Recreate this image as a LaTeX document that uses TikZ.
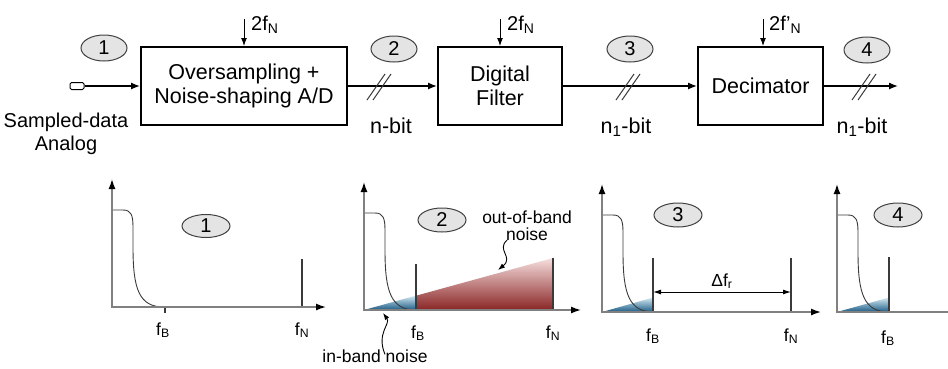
\documentclass[tikz,border=0pt]{standalone}
\usepackage{fontspec}
\setmainfont{Liberation Sans}
\usetikzlibrary{arrows.meta,shapes.geometric,positioning}
\definecolor{tagfill}{HTML}{E4E4E4}
\definecolor{tagline}{HTML}{404040}
\definecolor{axisc}{HTML}{808080}
\definecolor{curvec}{HTML}{3A3A3A}
\definecolor{bluedk}{HTML}{1C5A86}
\definecolor{bluelt}{HTML}{D2EAF2}
\definecolor{reddk}{HTML}{8A2525}
\definecolor{redlt}{HTML}{F6DEDE}
\tikzset{
  blk/.style={draw,line width=2pt,minimum height=78pt,align=center,font=\fontsize{21.5}{24}\selectfont},
  tag/.style={ellipse,draw=tagline,fill=tagfill,line width=1pt,minimum width=46pt,minimum height=26pt,inner sep=0pt,font=\fontsize{20}{22}\selectfont},
  sig/.style={line width=1.3pt,-{Latex[length=9pt,width=7pt]}},
  clk/.style={line width=1pt,-{Latex[length=8pt,width=6pt]}},
  ax/.style={axisc,line width=1.4pt,{Latex[length=10pt,width=7pt,color=black]}-{Latex[length=10pt,width=7pt,color=black]}},
  crv/.style={curvec,line width=0.9pt},
  fline/.style={curvec,line width=1.1pt},
  slash/.style={curvec,line width=1pt},
  wig/.style={line width=0.9pt,-{Latex[length=7pt,width=5pt]}},
  dim/.style={line width=1pt,{Latex[length=8pt,width=5pt]}-{Latex[length=8pt,width=5pt]}},
  txt/.style={font=\fontsize{21.5}{23}\selectfont,align=center,inner sep=0pt},
  lbl/.style={font=\fontsize{17.5}{17}\selectfont,align=center,inner sep=0pt},
  ck/.style={font=\fontsize{20}{22}\selectfont,inner sep=0pt,anchor=west},
}
\begin{document}
\begin{tikzpicture}[x=1pt,y=-1pt]
\useasboundingbox (0,0) rectangle (948,368);
% signal chain
\node[blk,minimum width=206pt] (ad) at (244,86) {Oversampling +\\Noise-shaping A/D};
\node[blk,minimum width=124pt] (filt) at (500,86) {Digital\\Filter};
\node[blk,minimum width=125pt] (deci) at (760.5,86) {Decimator};
\node[draw,fill=white,line width=1pt,rounded corners=1.5pt,minimum width=14pt,minimum height=7pt,inner sep=0pt] (src) at (77,86) {};
\node[txt,font=\fontsize{20}{23}\selectfont] (srclbl) at (66,134) {Sampled-data\\Analog};
\coordinate (out) at (898,86);
\draw[sig] (src) -- (ad);
\draw[sig] (ad) -- (filt);
\draw[sig] (filt) -- (deci);
\draw[sig] (deci) -- (out);
% clocks
\coordinate (ckad) at ([yshift=27pt]ad.north);
\coordinate (ckfilt) at ([yshift=27pt]filt.north);
\coordinate (ckdeci) at ([xshift=2.5pt,yshift=27pt]deci.north);
\draw[clk] (ckad) -- (ad.north);
\draw[clk] (ckfilt) -- (filt.north);
\draw[clk] (ckdeci) -- (ckdeci |- deci.north);
\node[ck] (fad) at ([xshift=7pt,yshift=-6pt]ckad) {2f\textsubscript{N}};
\node[ck] (ffilt) at ([xshift=7pt,yshift=-6pt]ckfilt) {2f\textsubscript{N}};
\node[ck] (fdeci) at ([xshift=6pt,yshift=-6pt]ckdeci) {2f'\textsubscript{N}};
% bus widths
\foreach \sx in {379,628,864} {
  \draw[slash] (\sx-12,100) -- (\sx+6,74);
  \draw[slash] (\sx-6,100) -- (\sx+12,74);
}
\node[txt] (bit2) at (391,126) {n-bit};
\node[txt] (bit3) at (626,127) {n\textsubscript{1}-bit};
\node[txt] (bit4) at (862,127) {n\textsubscript{1}-bit};
\node[tag] (tag1) at (104,48) {1};
\node[tag] (tag2) at (394,49) {2};
\node[tag] (tag3) at (630,49) {3};
\node[tag] (tag4) at (867,50) {4};
% spectra
\shade[top color=redlt,bottom color=reddk] (416,310) -- (416,295.7) -- (553,258) -- (553,310) -- cycle;
\foreach \ox/\oy/\fb in {364/310/416,602/312/653,837/312/889}
  \shade[top color=bluelt,bottom color=bluedk] (\ox,\oy) -- (\fb,\oy-14.5) -- (\fb,\oy) -- cycle;
\foreach \ox/\oy in {112/307,364/310,602/312,837/312}
  \draw[crv] (\ox,\oy-97) -- (\ox+11,\oy-97) .. controls (\ox+19,\oy-97) and (\ox+21,\oy-92) .. (\ox+21,\oy-80)
    -- (\ox+21,\oy-60) .. controls (\ox+21,\oy-18) and (\ox+27,\oy) .. (\ox+52,\oy);
\draw[fline] (302,259) -- (302,307);
\draw[fline] (165,307) -- (165,313);
\draw[fline] (416,264) -- (416,310);
\draw[fline] (553,258) -- (553,310);
\draw[fline] (653,258) -- (653,312);
\draw[fline] (791,258) -- (791,312);
\draw[fline] (889,257) -- (889,312);
\foreach \ox/\oy/\xe in {112/307/326,364/310/581,602/312/821}
  \draw[ax] (\ox,\oy-128) -- (\ox,\oy) -- (\xe,\oy);
\draw[ax,{Latex[length=10pt,width=7pt,color=black]}-] (837,184) -- (837,312) -- (950,312);
\coordinate (dfl) at (653,292);
\coordinate (dfr) at (791,292);
\draw[dim] (dfl) -- (dfr);
\node[lbl] (dflbl) at (722,281) {Δf\textsubscript{r}};
% labels
\node[lbl] (fb1) at (163,330) {f\textsubscript{B}};
\node[lbl] (fn1) at (302,330) {f\textsubscript{N}};
\node[lbl] (fb2) at (418,333) {f\textsubscript{B}};
\node[lbl] (fn2) at (553,333) {f\textsubscript{N}};
\node[lbl] (fb3) at (653,336) {f\textsubscript{B}};
\node[lbl] (fn3) at (791,336) {f\textsubscript{N}};
\node[lbl] (fb4) at (888,338) {f\textsubscript{B}};
\node[lbl] (obn) at (527,226) {out-of-band\\noise};
\node[lbl] (ibn) at (375,356) {in-band noise};
\coordinate (obtip) at (498,270);
\coordinate (ibtip) at (383,313);
\draw[wig] ([xshift=-20pt,yshift=1pt]obn.south) .. controls (496,250) and (514,257) .. (obtip);
\draw[wig] ([xshift=10pt,yshift=-5pt]ibn.north) .. controls (376,333) and (391,324) .. (ibtip);
\node[tag,minimum width=48pt,minimum height=23pt] (ptag1) at (206,226) {1};
\node[tag,minimum width=48pt,minimum height=24pt] (ptag2) at (442,220) {2};
\node[tag,minimum width=48pt,minimum height=24pt] (ptag3) at (678,215) {3};
\node[tag,minimum width=48pt,minimum height=24pt] (ptag4) at (898,215) {4};
\end{tikzpicture}
\end{document}
